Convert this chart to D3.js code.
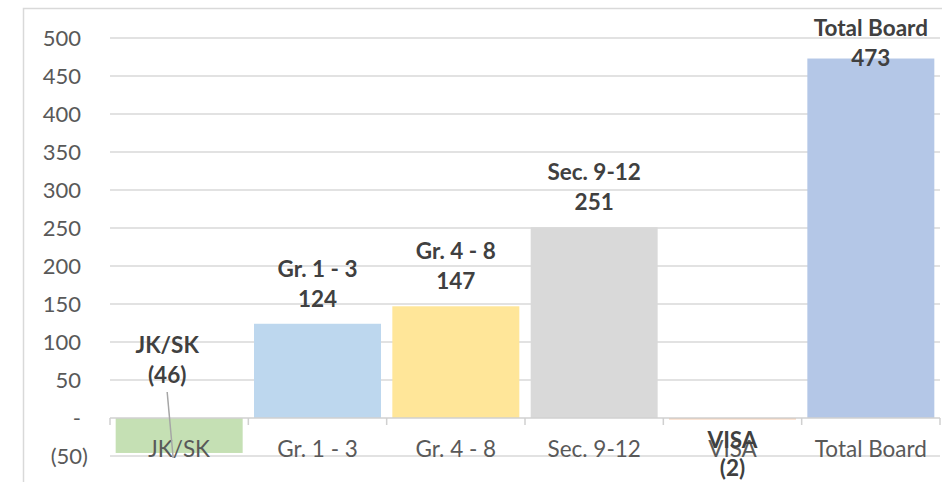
<!DOCTYPE html>
<html>
<head>
<meta charset="utf-8">
<script src="https://cdn.jsdelivr.net/npm/d3@7"></script>
<style>
  html, body { margin: 0; padding: 0; background: #fff; }
  svg { display: block; font-family: Lato, "Open Sans", sans-serif; }
</style>
</head>
<body>
<svg id="chart" width="942" height="482"></svg>
<script>
// Enrolment change by division
const categories = ["JK/SK", "Gr. 1 - 3", "Gr. 4 - 8", "Sec. 9-12", "VISA", "Total Board"];
const values = [-46, 124, 147, 251, -2, 473];
const barColors = ["#c5e0b4", "#bdd7ee", "#ffe699", "#d9d9d9", "#f8cbad", "#b4c7e7"];
const yTicks = [-50, 0, 50, 100, 150, 200, 250, 300, 350, 400, 450, 500];

const svg = d3.select("#chart");
const W = 942, H = 482;
const plot = { left: 110, right: 940, top: 38, bottom: 456 };

// chart area frame (continues past the right and bottom edges)
svg.append("rect")
  .attr("x", 23.5).attr("y", 8.5)
  .attr("width", W).attr("height", H)
  .attr("fill", "none").attr("stroke", "#d9d9d9").attr("stroke-width", 1.5);

const x = d3.scaleBand()
  .domain(categories)
  .range([plot.left, plot.right])
  .paddingInner(0.082)
  .paddingOuter(0.041);

const y = d3.scaleLinear()
  .domain([-50, 500])
  .range([plot.bottom, plot.top]);

const fmt = v => v === 0 ? "-" : (v < 0 ? "(" + d3.format(",")(-v) + ")" : d3.format(",")(v));

// horizontal gridlines
svg.append("g")
  .selectAll("line")
  .data(yTicks.filter(t => t !== 0))
  .join("line")
  .attr("x1", plot.left).attr("x2", plot.right)
  .attr("y1", d => y(d)).attr("y2", d => y(d))
  .attr("stroke", "#d9d9d9").attr("stroke-width", 1.5);

// y axis labels
const yAxis = d3.axisLeft(y).tickValues(yTicks).tickFormat(fmt).tickSize(0).tickPadding(0);
const gy = svg.append("g").attr("transform", "translate(81,0)").call(yAxis);
gy.select(".domain").remove();
gy.selectAll("text")
  .attr("fill", "#595959")
  .style("font-size", "22px")
  .style("font-family", "Lato, sans-serif");
gy.selectAll(".tick").filter(d => d < 0).select("text").attr("dx", 7);

// bars
svg.append("g")
  .selectAll("rect")
  .data(categories)
  .join("rect")
  .attr("x", d => x(d))
  .attr("width", x.bandwidth())
  .attr("y", (d, i) => y(Math.max(0, values[i])))
  .attr("height", (d, i) => Math.abs(y(values[i]) - y(0)))
  .attr("fill", (d, i) => barColors[i]);

// category axis at zero
const step = x.step();
const boundaries = d3.range(categories.length + 1).map(i => plot.left + i * step);
svg.append("line")
  .attr("x1", plot.left).attr("x2", plot.right)
  .attr("y1", y(0)).attr("y2", y(0))
  .attr("stroke", "#d0d0d0").attr("stroke-width", 1.5);
svg.append("g")
  .selectAll("line")
  .data(boundaries)
  .join("line")
  .attr("x1", d => d).attr("x2", d => d)
  .attr("y1", y(0)).attr("y2", y(0) + 7)
  .attr("stroke", "#d0d0d0").attr("stroke-width", 1.5);

const xAxis = d3.axisBottom(x).tickSize(0).tickPadding(0);
const gx = svg.append("g").attr("transform", "translate(0," + (y(-50) - 7) + ")").call(xAxis);
gx.select(".domain").remove();
gx.selectAll("text")
  .attr("y", 0).attr("dy", "0.35em")
  .attr("fill", "#595959")
  .style("font-size", "22.5px")
  .style("font-family", "Lato, sans-serif");

// leader lines sit under the data labels
const leaderG = svg.append("g");

// data labels: category name over value
const labelG = svg.append("g")
  .style("font-size", "22.5px")
  .style("font-weight", "bold")
  .attr("fill", "#404040")
  .attr("text-anchor", "middle");

categories.forEach((c, i) => {
  const v = values[i];
  const cx = x(c) + x.bandwidth() / 2;
  let y1, y2, lx = cx;
  if (c === "JK/SK") {
    // label lifted above the axis with a leader line to its bar
    lx = cx - 12;
    y1 = 345; y2 = 375;
    leaderG.append("line")
      .attr("x1", lx).attr("y1", y2 + 17)
      .attr("x2", lx + 6).attr("y2", y(v) + 5)
      .attr("stroke", "#a6a6a6").attr("stroke-width", 1.5);
  } else if (v < 0) {
    y1 = y(v) + 21; y2 = y1 + 28;
  } else {
    y2 = Math.max(y(v) - 25, 58);
    y1 = y2 - 30;
  }
  labelG.append("text").attr("x", lx).attr("y", y1).attr("dy", "0.35em").text(c);
  labelG.append("text").attr("x", lx).attr("y", y2).attr("dy", "0.35em").text(fmt(v));
});
</script>
</body>
</html>
